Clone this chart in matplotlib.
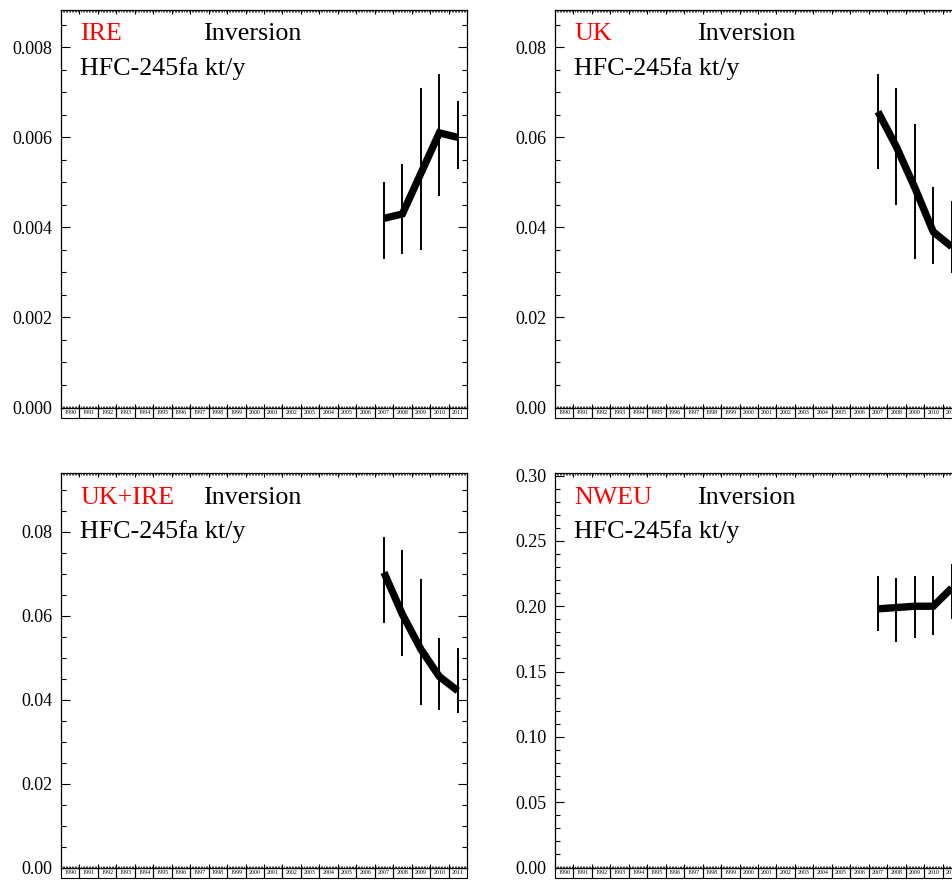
import matplotlib
matplotlib.use("Agg")
import matplotlib.pyplot as plt
import matplotlib.transforms as mtransforms
from matplotlib.patches import Rectangle
from matplotlib.ticker import MultipleLocator, FixedLocator, NullFormatter, FormatStrFormatter
import numpy as np

plt.rcParams['font.family'] = ['Liberation Serif', 'DejaVu Serif']

W, H = 952, 884

years = [2007, 2008, 2009, 2010, 2011]
label_years = list(range(1990, 2012))

regions = ["IRE", "UK", "UK+IRE", "NWEU"]
method = "Inversion"
species = "HFC-245fa kt/y"

ire_val = [0.0042, 0.0043, 0.0052, 0.0061, 0.0060]
ire_lo = [0.0033, 0.0034, 0.0035, 0.0047, 0.0053]
ire_hi = [0.0050, 0.0054, 0.0071, 0.0074, 0.0068]

uk_val = [0.0657, 0.0579, 0.0488, 0.0390, 0.0357]
uk_lo = [0.0530, 0.0450, 0.0330, 0.0319, 0.0299]
uk_hi = [0.0741, 0.0710, 0.0630, 0.0490, 0.0459]

ukire_val = [0.0703, 0.0603, 0.0520, 0.0455, 0.0421]
ukire_lo = [0.0582, 0.0503, 0.0388, 0.0376, 0.0369]
ukire_hi = [0.0787, 0.0756, 0.0687, 0.0546, 0.0524]

nweu_val = [0.198, 0.199, 0.200, 0.200, 0.214]
nweu_lo = [0.181, 0.173, 0.176, 0.178, 0.190]
nweu_hi = [0.223, 0.222, 0.223, 0.223, 0.232]

series = [(ire_val, ire_lo, ire_hi), (uk_val, uk_lo, uk_hi),
          (ukire_val, ukire_lo, ukire_hi), (nweu_val, nweu_lo, nweu_hi)]
ytops = [0.00884, 0.0884, 0.094, 0.302]
ymajor = [0.002, 0.02, 0.02, 0.05]
yminor = [0.0005, 0.005, 0.005, 0.01]
yfmt = ['%.3f', '%.2f', '%.2f', '%.2f']

# panel rectangles in pixels: left, top, bottom
lefts = [61, 555, 61, 555]
tops = [9.5, 9.5, 473, 473]
bottoms = [407.5, 407.5, 867.5, 867.5]
width_px = 406

fig = plt.figure(figsize=(W / 100, H / 100), dpi=100)

for i in range(4):
    l, t, b = lefts[i], tops[i], bottoms[i]
    ax = fig.add_axes([l / W, 1 - b / H, width_px / W, (b - t) / H])
    val, lo, hi = series[i]
    x = np.array(years) + 0.5

    ax.vlines(x, lo, hi, color='black', lw=1.4, zorder=2)
    ax.plot(x, val, color='black', lw=5.3, solid_capstyle='butt',
            solid_joinstyle='miter', zorder=3)

    ax.set_xlim(1990, 2012)
    ax.set_ylim(0, ytops[i])

    for sp in ax.spines.values():
        sp.set_linewidth(0.9)

    ax.xaxis.set_major_locator(FixedLocator(np.arange(1990, 2013)))
    ax.xaxis.set_minor_locator(MultipleLocator(1 / 12))
    ax.xaxis.set_major_formatter(NullFormatter())
    ax.yaxis.set_major_locator(MultipleLocator(ymajor[i]))
    ax.yaxis.set_minor_locator(MultipleLocator(yminor[i]))
    ax.yaxis.set_major_formatter(FormatStrFormatter(yfmt[i]))

    ax.tick_params(axis='both', which='both', direction='in',
                   top=True, right=True, width=0.8)
    ax.tick_params(axis='x', which='major', length=3.2)
    ax.tick_params(axis='x', which='minor', length=1.6, width=0.5)
    ax.tick_params(axis='y', which='major', length=6.5, labelsize=13, pad=6)
    ax.tick_params(axis='y', which='minor', length=3.5)

    # year boxes under the time axis
    trans = mtransforms.blended_transform_factory(ax.transData, ax.transAxes)
    hbox = 10.5 / (b - t)
    for yr in label_years:
        ax.add_patch(Rectangle((yr, -hbox), 1, hbox, transform=trans,
                               fill=False, lw=0.8, edgecolor='black',
                               clip_on=False))
        ax.text(yr + 0.5, -hbox / 2, str(yr), transform=trans,
                fontsize=4.3, ha='center', va='center', clip_on=False)

    ax.annotate(regions[i], xy=(0, 1), xycoords='axes fraction',
                xytext=(19, -31), textcoords='offset pixels',
                ha='left', va='baseline', fontsize=18.7, color='red')
    ax.annotate(method, xy=(0, 1), xycoords='axes fraction',
                xytext=(142, -31), textcoords='offset pixels',
                ha='left', va='baseline', fontsize=18.7, color='black')
    ax.annotate(species, xy=(0, 1), xycoords='axes fraction',
                xytext=(19, -65), textcoords='offset pixels',
                ha='left', va='baseline', fontsize=18.7, color='black')

fig.savefig("out.png", dpi=100)
